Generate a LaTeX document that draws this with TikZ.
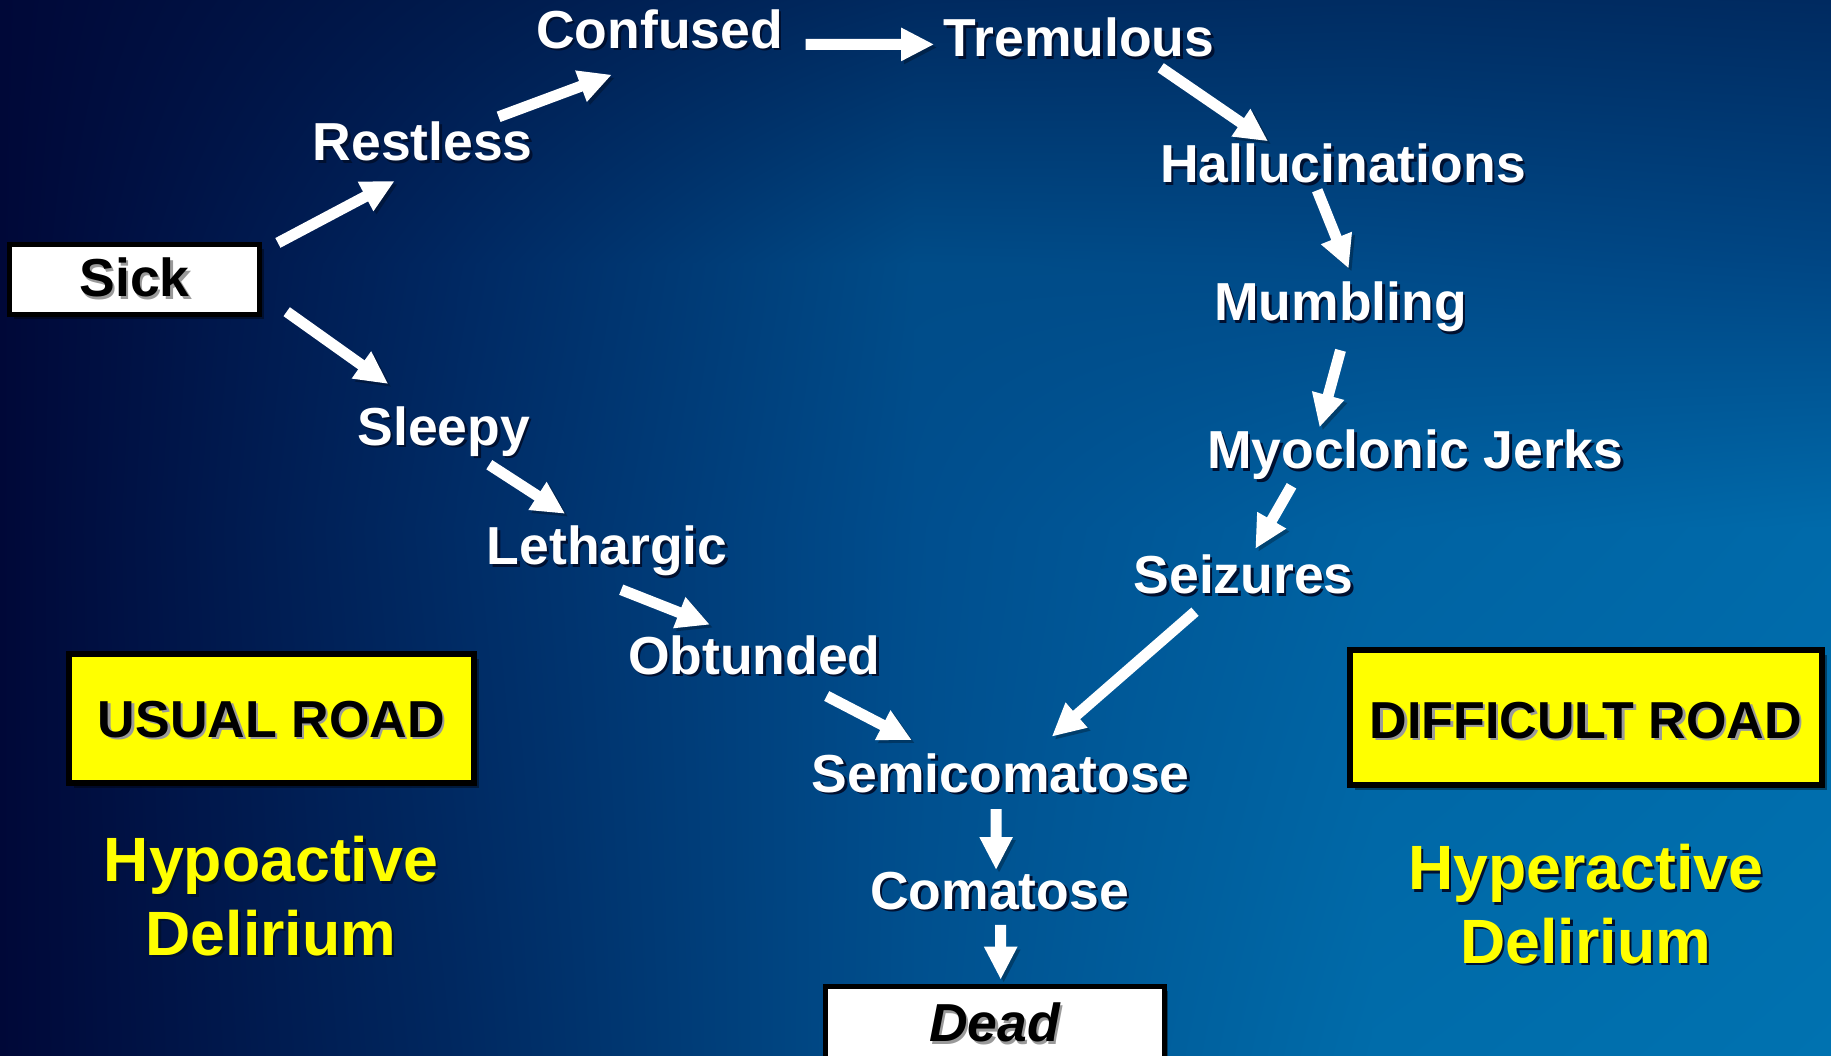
\documentclass[tikz,border=0pt]{standalone}
\usepackage{fontspec}
\setmainfont{Liberation Sans}
\usetikzlibrary{arrows.meta,shadows,shadings}

% background colour grid (columns x = 0, 458, 915, 1373, 1831; rows y = 0, 264, 528, 1055)
\definecolor{bgAa}{HTML}{000838}\definecolor{bgBa}{HTML}{001A4C}\definecolor{bgCa}{HTML}{002A60}\definecolor{bgDa}{HTML}{002C62}\definecolor{bgEa}{HTML}{002A60}
\definecolor{bgAb}{HTML}{000838}\definecolor{bgBb}{HTML}{002862}\definecolor{bgCb}{HTML}{004C88}\definecolor{bgDb}{HTML}{004A88}\definecolor{bgEb}{HTML}{004684}
\definecolor{bgAc}{HTML}{000838}\definecolor{bgBc}{HTML}{002C66}\definecolor{bgCc}{HTML}{004E8E}\definecolor{bgDc}{HTML}{0062A2}\definecolor{bgEc}{HTML}{006AAA}
\definecolor{bgAd}{HTML}{000838}\definecolor{bgBd}{HTML}{002860}\definecolor{bgCd}{HTML}{00508E}\definecolor{bgDd}{HTML}{006CAA}\definecolor{bgEd}{HTML}{0072B0}
\definecolor{signyellow}{HTML}{FFFF00}
\definecolor{txtshadow}{HTML}{001030}
\definecolor{boxshadow}{HTML}{9A9A9A}

% text with an offset copy underneath
\newcommand\shtxt[2]{\makebox[0pt][l]{\kern2.5pt\raisebox{-2.5pt}{\color{#1}#2}}#2}

% one bilinear patch of the background: corners TL, TR, BL, BR, then the rectangle
\newcommand\bgpatch[6]{\shade[upper left=#1, upper right=#2, lower left=#3, lower right=#4] #5 rectangle #6;}

\begin{document}
\begin{tikzpicture}[x=1pt,y=-1pt,
  lbl/.style={anchor=base, inner sep=0pt, text=white,
    font=\fontsize{53.5}{60}\selectfont\bfseries},
  ylbl/.style={anchor=base, inner sep=0pt, text=signyellow,
    font=\fontsize{62.6}{70}\selectfont\bfseries},
  whitebox/.style={anchor=base, draw=black, line width=5pt, fill=white,
    inner sep=0pt, text=black, font=\fontsize{53.5}{60}\selectfont\bfseries,
    drop shadow={shadow xshift=4pt, shadow yshift=-4pt, opacity=.4, fill=black}},
  roadbox/.style={anchor=base, draw=black, line width=6pt, fill=signyellow,
    inner sep=0pt, text=black, font=\fontsize{52}{60}\selectfont\bfseries,
    drop shadow={shadow xshift=5pt, shadow yshift=-5pt, opacity=.4, fill=black}},
  arr/.style={draw=white, line width=11pt,
    -{Triangle[length=33pt,width=31pt]},
    preaction={draw=black, opacity=.28,
      transform canvas={shift={(3pt,-3pt)}}}}
]
\useasboundingbox (0,0) rectangle (1831,1055);

% background
\bgpatch{bgAa}{bgBa}{bgAb}{bgBb}{(0,0)}{(459,265)}
\bgpatch{bgBa}{bgCa}{bgBb}{bgCb}{(457,0)}{(916,265)}
\bgpatch{bgCa}{bgDa}{bgCb}{bgDb}{(914,0)}{(1374,265)}
\bgpatch{bgDa}{bgEa}{bgDb}{bgEb}{(1372,0)}{(1831,265)}
\bgpatch{bgAb}{bgBb}{bgAc}{bgBc}{(0,263)}{(459,529)}
\bgpatch{bgBb}{bgCb}{bgBc}{bgCc}{(457,263)}{(916,529)}
\bgpatch{bgCb}{bgDb}{bgCc}{bgDc}{(914,263)}{(1374,529)}
\bgpatch{bgDb}{bgEb}{bgDc}{bgEc}{(1372,263)}{(1831,529)}
\bgpatch{bgAc}{bgBc}{bgAd}{bgBd}{(0,527)}{(459,1055)}
\bgpatch{bgBc}{bgCc}{bgBd}{bgCd}{(457,527)}{(916,1055)}
\bgpatch{bgCc}{bgDc}{bgCd}{bgDd}{(914,527)}{(1374,1055)}
\bgpatch{bgDc}{bgEc}{bgDd}{bgEd}{(1372,527)}{(1831,1055)}

% start and end boxes
\node[whitebox, minimum width=250pt, text height=52.2pt, text depth=17.8pt]
  (sick) at (134.5,296.7) {\shtxt{boxshadow}{Sick}};
\node[whitebox, minimum width=339pt, text height=55.2pt, text depth=33.3pt,
  font=\fontsize{53.5}{60}\selectfont\bfseries\itshape]
  (dead) at (994.5,1041.7) {\shtxt{boxshadow}{Dead}};

% road signs
\node[roadbox, minimum width=404.7pt, text height=83.6pt, text depth=46pt]
  (usual) at (271.3,737.3) {\shtxt{boxshadow}{USUAL ROAD}};
\node[roadbox, minimum width=472.3pt, text height=88pt, text depth=47pt]
  (difficult) at (1585.8,738.3) {\shtxt{boxshadow}{DIFFICULT ROAD}};

% upper (hyperactive) road
\node[lbl] (restless)  at (422.7,160.5)  {\shtxt{txtshadow}{Restless}};
\node[lbl] (confused)  at (659.7,48.4)   {\shtxt{txtshadow}{Confused}};
\node[lbl] (tremulous) at (1079.0,56.6)  {\shtxt{txtshadow}{Tremulous}};
\node[lbl] (halluc)    at (1342.9,182.7) {\shtxt{txtshadow}{Hallucinations}};
\node[lbl] (mumbling)  at (1340.5,320.5) {\shtxt{txtshadow}{Mumbling}};
\node[lbl] (myoclonic) at (1415.3,468.8) {\shtxt{txtshadow}{Myoclonic Jerks}};
\node[lbl] (seizures)  at (1243.6,593.7) {\shtxt{txtshadow}{Seizures}};

% lower (hypoactive) road
\node[lbl] (sleepy)    at (443.7,445.4)  {\shtxt{txtshadow}{Sleepy}};
\node[lbl] (lethargic) at (607.2,564.5)  {\shtxt{txtshadow}{Lethargic}};
\node[lbl] (obtunded)  at (754.3,674.3)  {\shtxt{txtshadow}{Obtunded}};
\node[lbl] (semicoma)  at (1000.7,792.2) {\shtxt{txtshadow}{Semicomatose}};
\node[lbl] (comatose)  at (999.6,909.0)  {\shtxt{txtshadow}{Comatose}};

% captions
\node[ylbl] (hypoA)  at (270.9,881.6)  {\shtxt{txtshadow}{Hypoactive}};
\node[ylbl] (hypoB)  at (270.9,955.2)  {\shtxt{txtshadow}{Delirium}};
\node[ylbl] (hyperA) at (1585.7,889.8) {\shtxt{txtshadow}{Hyperactive}};
\node[ylbl] (hyperB) at (1585.7,963.4) {\shtxt{txtshadow}{Delirium}};

% connectors
\draw[arr] ([shift={(143.4,-53.8)}]sick.base)      -- ([shift={(-28,20.5)}]restless.base);
\draw[arr] ([shift={(75.9,-43.7)}]restless.base)   -- ([shift={(-47.8,26.3)}]confused.base);
\draw[arr] ([shift={(146,-4)}]confused.base)       -- ([shift={(-144.8,-12.2)}]tremulous.base);
\draw[arr] ([shift={(81.7,11.1)}]tremulous.base)   -- ([shift={(-74.8,-41.4)}]halluc.base);
\draw[arr] ([shift={(-25.7,7.6)}]halluc.base)      -- ([shift={(8.2,-51.9)}]mumbling.base);
\draw[arr] ([shift={(0,29.8)}]mumbling.base)       -- ([shift={(-95.8,-41.4)}]myoclonic.base);
\draw[arr] ([shift={(-123.8,17)}]myoclonic.base)   -- ([shift={(11.7,-44.9)}]seizures.base);
\draw[arr] ([shift={(-48.6,18)}]seizures.base)     -- ([shift={(51,-55.5)}]semicoma.base);
\draw[arr] ([shift={(152.2,15)}]sick.base)         -- ([shift={(-55.4,-61.4)}]sleepy.base);
\draw[arr] ([shift={(45.6,19.3)}]sleepy.base)      -- ([shift={(-42,-50.7)}]lethargic.base);
\draw[arr] ([shift={(14,25.2)}]lethargic.base)     -- ([shift={(-44.3,-49.6)}]obtunded.base);
\draw[arr] ([shift={(72.4,21.7)}]obtunded.base)    -- ([shift={(-88.7,-51.9)}]semicoma.base);
\draw[arr] ([shift={(-4.6,17)}]semicoma.base)      -- ([shift={(-3.5,-39)}]comatose.base);
\draw[arr] ([shift={(1.1,15.8)}]comatose.base)     -- ([shift={(6.2,-62)}]dead.base);
\end{tikzpicture}
\end{document}
